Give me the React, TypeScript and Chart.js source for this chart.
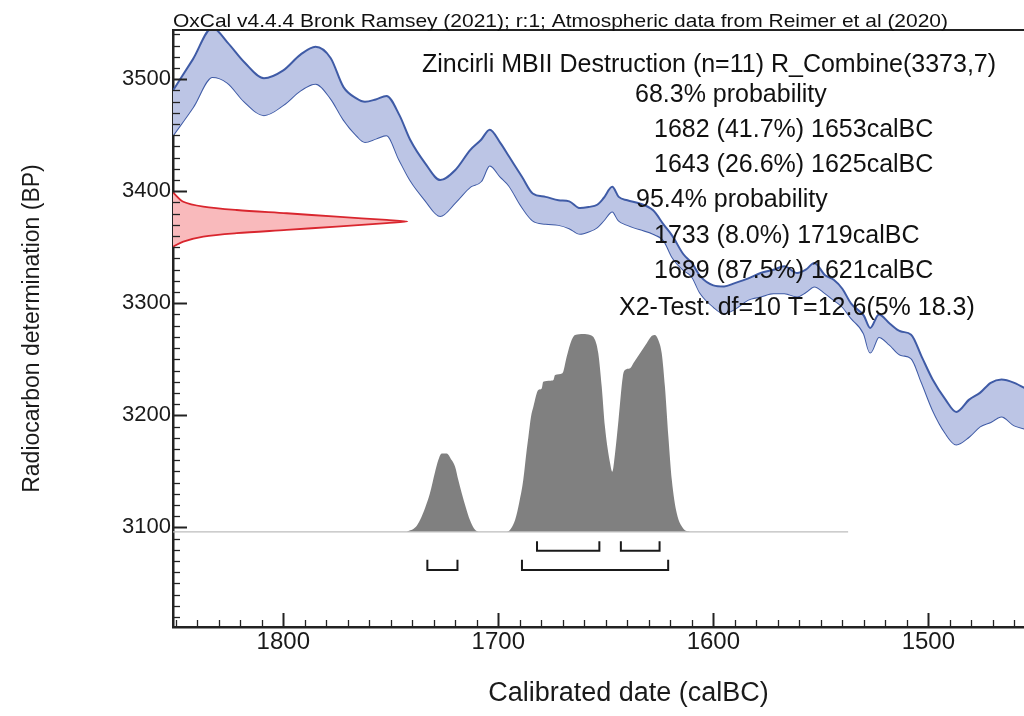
import React, { useEffect, useRef } from 'react';
import { Chart, registerables } from 'chart.js';

Chart.register(...registerables);

// ---------- data ----------
const curveYears = [1851.3, 1842, 1833, 1826, 1818, 1809, 1800, 1792, 1785, 1778, 1772, 1766, 1762, 1757, 1752, 1746, 1741, 1734, 1727, 1720, 1713, 1708, 1704, 1699, 1695, 1689, 1684, 1678, 1672, 1667, 1662, 1658, 1654, 1651, 1647, 1644, 1640, 1634, 1628, 1623, 1619, 1614, 1610, 1606, 1600, 1595, 1590, 1584, 1578, 1572, 1567, 1561, 1557, 1553, 1548, 1544, 1540, 1536, 1530, 1527, 1523, 1518, 1513, 1508, 1503, 1498, 1492, 1487, 1481, 1476, 1471, 1466, 1460, 1455, 1445, 1428];
const curveUpper = [3490, 3518, 3546, 3533, 3515, 3501, 3508, 3522, 3529, 3519, 3493, 3483, 3480, 3482, 3485, 3468, 3446, 3425, 3410, 3419, 3437, 3446, 3455, 3443, 3431, 3413, 3398, 3395, 3392, 3391, 3385, 3386, 3388, 3394, 3404, 3395, 3392, 3389, 3383, 3370, 3360, 3344, 3336, 3324, 3316, 3315, 3318, 3322, 3327, 3330, 3333, 3327, 3330, 3336, 3325, 3321, 3313, 3300, 3289, 3278, 3290, 3282, 3275, 3272, 3252, 3232, 3214, 3203, 3214, 3220, 3229, 3232, 3229, 3224, 3212, 3200];
const curveLower = [3450, 3475, 3502, 3497, 3480, 3468, 3477, 3490, 3496, 3483, 3464, 3450, 3444, 3447, 3450, 3428, 3410, 3392, 3378, 3390, 3404, 3409, 3423, 3413, 3405, 3386, 3374, 3371, 3370, 3367, 3362, 3364, 3368, 3374, 3382, 3374, 3370, 3366, 3362, 3356, 3341, 3330, 3324, 3309, 3297, 3291, 3295, 3303, 3306, 3309, 3309, 3306, 3310, 3315, 3309, 3303, 3297, 3287, 3273, 3256, 3270, 3263, 3254, 3251, 3229, 3205, 3184, 3174, 3181, 3190, 3194, 3199, 3191, 3188, 3180, 3170];

// R_Combine(3373,7) measurement distribution drawn against the BP axis
const measYears = [1851.3, 1846.5, 1837.2, 1821.7, 1798.4, 1775.2, 1751.9, 1742.3, 1751.9, 1775.2, 1798.4, 1821.7, 1837.2, 1846.5, 1851.3];
const measBP = [3399, 3390.7, 3386.3, 3383.3, 3380.4, 3377.3, 3374.4, 3373, 3371.6, 3368.5, 3365.5, 3362.6, 3359.6, 3355.1, 3350.5];

// calibrated (posterior) distribution, drawn above its baseline
const postBase = 3096;
const postBaseEnd = 1537.3;
const postYears = [1742.6, 1738.3, 1736.4, 1734.1, 1731.8, 1729.4, 1727.9, 1726.3, 1724.0, 1721.7, 1720.1, 1718.6, 1717.0, 1715.0, 1713.2, 1711.3, 1708.5, 1696.1, 1694.1, 1692.2, 1690.2, 1688.4, 1686.8, 1686.0, 1684.8, 1683.7, 1681.4, 1679.8, 1679.1, 1675.9, 1674.4, 1673.6, 1670.2, 1668.2, 1665.9, 1664.3, 1660.5, 1657.3, 1655.0, 1653.5, 1651.9, 1650.4, 1648.0, 1647.0, 1645.7, 1644.1, 1642.1, 1641.1, 1638.7, 1637.2, 1634.1, 1631.0, 1628.7, 1627.1, 1625.6, 1624.0, 1622.5, 1620.9, 1619.3, 1617.0, 1614.0, 1610.8];
const postBP = [3096, 3100.5, 3106.5, 3117, 3130.4, 3149.6, 3160.1, 3166, 3166, 3160, 3154.1, 3142.2, 3130.4, 3117, 3106.5, 3099, 3096, 3096, 3099, 3106.5, 3122.9, 3142.2, 3169, 3180.9, 3198.8, 3207.7, 3222.6, 3224, 3230, 3230.9, 3231.5, 3236, 3237.5, 3252.3, 3267.2, 3271.7, 3272.6, 3271.7, 3267.2, 3255.4, 3225.5, 3189.8, 3157.1, 3149.6, 3166.1, 3195.8, 3234.5, 3240.4, 3241.9, 3246.4, 3255.4, 3264.3, 3270.8, 3271.7, 3267.2, 3255.4, 3225.5, 3180.9, 3142.2, 3112.5, 3099, 3096];

// highest probability density ranges
const range68 = [[1682, 1653], [1643, 1625]];
const prob68 = ['41.7', '26.6'];
const range95 = [[1733, 1719], [1689, 1621]];
const prob95 = ['8.0', '87.5'];
const bracket68 = { bar: 3079, tip: 3087.5 };
const bracket95 = { bar: 3062, tip: 3071 };

const headerText = 'OxCal v4.4.4 Bronk Ramsey (2021); r:1; Atmospheric data from Reimer et al (2020)';
const sampleName = 'Zincirli MBII Destruction (n=11) R_Combine(3373,7)';
const chiText = 'X2-Test: df=10 T=12.6(5% 18.3)';

const xRange = { min: 1427.6, max: 1851.3 };
const yRange = { min: 3011, max: 3544 };

const FONT = '"Liberation Sans", Arial, sans-serif';

const pts = (xs: number[], ys: number[]) => xs.map((x, i) => ({ x, y: ys[i] }));

const bracketSets = (ranges: number[][], lv: { bar: number; tip: number }) =>
  ranges.map((r) => ({
    data: [
      { x: r[0], y: lv.tip },
      { x: r[0], y: lv.bar },
      { x: r[1], y: lv.bar },
      { x: r[1], y: lv.tip },
    ],
    borderColor: '#1a1a1a',
    borderWidth: 2,
    pointRadius: 0,
    fill: false,
    tension: 0,
    borderJoinStyle: 'miter' as const,
  }));

const decorPlugin = {
  id: 'decor',
  afterDraw(chart: any) {
    const { ctx, chartArea: a, scales } = chart;
    ctx.save();
    ctx.strokeStyle = '#222';
    // top frame line
    ctx.lineWidth = 2;
    ctx.beginPath();
    ctx.moveTo(a.left - 1, a.top);
    ctx.lineTo(a.right, a.top);
    ctx.stroke();
    // inward tick marks from the library's ticks
    for (const t of scales.y.ticks) {
      const p = Math.round(scales.y.getPixelForValue(t.value)) + 0.5;
      const major = Math.abs(t.value % 100) < 1e-6;
      ctx.lineWidth = major ? 2 : 1.3;
      ctx.beginPath();
      ctx.moveTo(a.left, p);
      ctx.lineTo(a.left + (major ? 14 : 7), p);
      ctx.stroke();
    }
    for (const t of scales.x.ticks) {
      const p = Math.round(scales.x.getPixelForValue(t.value)) + 0.5;
      const major = Math.abs(t.value % 100) < 1e-6;
      ctx.lineWidth = major ? 2 : 1.3;
      ctx.beginPath();
      ctx.moveTo(p, a.bottom);
      ctx.lineTo(p, a.bottom - (major ? 14 : 7));
      ctx.stroke();
    }
    // header
    ctx.fillStyle = '#111';
    ctx.textBaseline = 'alphabetic';
    ctx.textAlign = 'left';
    ctx.font = `19px ${FONT}`;
    const hw = ctx.measureText(headerText).width;
    ctx.save();
    ctx.translate(a.left, 26.5);
    ctx.scale(775 / hw, 1);
    ctx.fillText(headerText, 0, 0);
    ctx.restore();
    // result block
    ctx.font = `25px ${FONT}`;
    const lines: [string, number, number][] = [
      [sampleName, 422, 71.5],
      ['68.3% probability', 635, 101.5],
      [`${range68[0][0]} (${prob68[0]}%) ${range68[0][1]}calBC`, 654, 136.5],
      [`${range68[1][0]} (${prob68[1]}%) ${range68[1][1]}calBC`, 654, 171.5],
      ['95.4% probability', 636, 206.7],
      [`${range95[0][0]} (${prob95[0]}%) ${range95[0][1]}calBC`, 654, 243],
      [`${range95[1][0]} (${prob95[1]}%) ${range95[1][1]}calBC`, 654, 278.3],
      [chiText, 619, 315],
    ];
    for (const [s, x, y] of lines) ctx.fillText(s, x, y);
    ctx.restore();
  },
};

export default function App() {
  const ref = useRef<HTMLCanvasElement>(null);
  useEffect(() => {
    const chart = new Chart(ref.current as HTMLCanvasElement, {
      type: 'line',
      data: {
        datasets: [
          {
            data: pts(curveYears, curveUpper),
            borderColor: '#3f5ba6',
            borderWidth: 2,
            backgroundColor: 'rgba(188,197,229,1)',
            fill: '+1',
            pointRadius: 0,
            cubicInterpolationMode: 'monotone',
          },
          {
            data: pts(curveYears, curveLower),
            borderColor: '#3f5ba6',
            borderWidth: 2,
            fill: false,
            pointRadius: 0,
            cubicInterpolationMode: 'monotone',
          },
          {
            data: pts(measYears, measBP),
            borderColor: '#d9262e',
            borderWidth: 1.8,
            backgroundColor: 'rgba(249,186,188,1)',
            fill: 'shape',
            pointRadius: 0,
            tension: 0.3,
          },
          {
            data: [
              { x: xRange.max, y: postBase },
              { x: postBaseEnd, y: postBase },
            ],
            borderColor: '#bdbdbd',
            borderWidth: 1.2,
            fill: false,
            pointRadius: 0,
          },
          {
            data: pts(postYears, postBP),
            borderColor: 'rgba(0,0,0,0)',
            borderWidth: 0,
            backgroundColor: '#808080',
            fill: { value: postBase },
            pointRadius: 0,
            cubicInterpolationMode: 'monotone',
          },
          ...bracketSets(range68, bracket68),
          ...bracketSets(range95, bracket95),
        ] as any,
      },
      options: {
        animation: false,
        responsive: false,
        maintainAspectRatio: false,
        layout: { padding: { top: 30, left: 0, right: 0, bottom: 0 } },
        plugins: { legend: { display: false }, tooltip: { enabled: false }, title: { display: false } },
        events: [],
        scales: {
          x: {
            type: 'linear',
            reverse: true,
            min: xRange.min,
            max: xRange.max,
            afterFit: (s: any) => { s.height = 89; },
            grid: { display: true, drawOnChartArea: false, drawTicks: false },
            border: { display: true, color: '#222', width: 2.5 },
            ticks: {
              stepSize: 10,
              includeBounds: false,
              autoSkip: false,
              maxRotation: 0,
              padding: 1,
              color: '#1a1a1a',
              font: { family: FONT, size: 24 },
              callback: (v: any) => (Math.abs(Number(v) % 100) < 1e-6 ? String(Math.round(Number(v))) : ''),
            },
            title: {
              display: true,
              text: 'Calibrated date (calBC)',
              color: '#1a1a1a',
              font: { family: FONT, size: 27 },
              padding: { top: 0, bottom: 6 },
            },
          },
          y: {
            type: 'linear',
            min: yRange.min,
            max: yRange.max,
            afterFit: (s: any) => { s.width = 173; },
            grid: { display: true, drawOnChartArea: false, drawTicks: false },
            border: { display: true, color: '#222', width: 2.5 },
            ticks: {
              stepSize: 10,
              includeBounds: false,
              autoSkip: false,
              padding: 2,
              color: '#1a1a1a',
              font: { family: FONT, size: 22 },
              callback: (v: any) => (Math.abs(Number(v) % 100) < 1e-6 ? String(Math.round(Number(v))) : ''),
            },
            title: {
              display: true,
              text: 'Radiocarbon determination (BP)',
              color: '#1a1a1a',
              font: { family: FONT, size: 23 },
              padding: { top: 19, bottom: 0 },
            },
          },
        },
      } as any,
      plugins: [decorPlugin],
    });
    return () => chart.destroy();
  }, []);

  return (
    <div style={{ position: 'fixed', left: 0, top: 0, width: 1024, height: 716, overflow: 'hidden', background: '#fff' }}>
      <canvas ref={ref} width={1084} height={716} style={{ width: 1084, height: 716, display: 'block' }} />
    </div>
  );
}
